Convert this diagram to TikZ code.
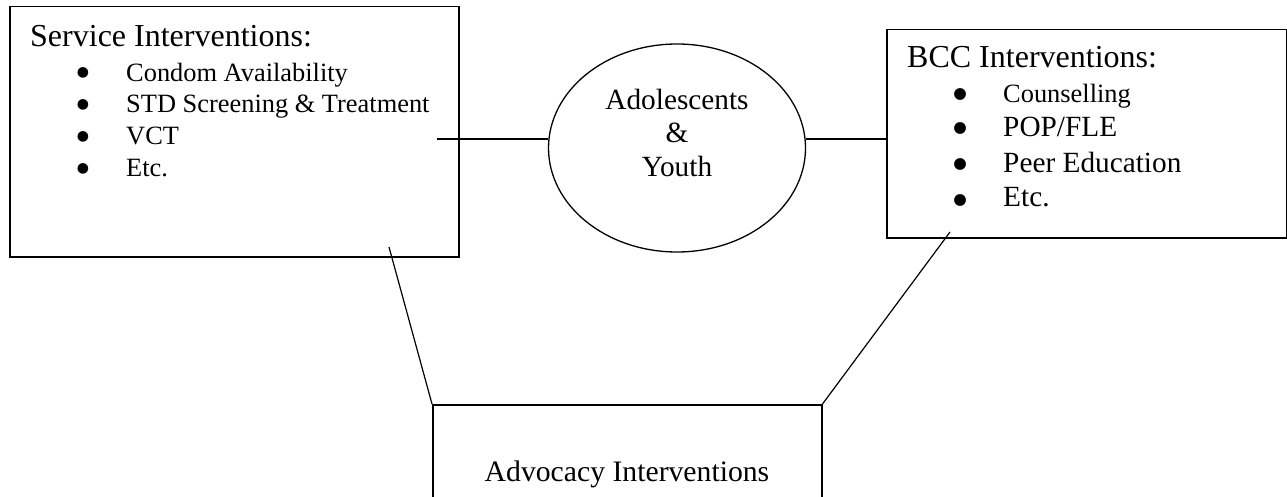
\documentclass[tikz,border=0pt]{standalone}
\usepackage{fontspec}
\setmainfont{Liberation Serif}
\newfontfamily\symfont{DejaVu Sans}
\usetikzlibrary{shapes.geometric}
\begin{document}
\begin{tikzpicture}[x=1pt,y=-1pt,
  box/.style={draw, line width=1.5pt, rectangle, inner sep=0pt, anchor=north west},
  conn/.style={line width=1.2pt},
  txt/.style={inner sep=0pt, anchor=base west},
  ctxt/.style={inner sep=0pt, anchor=base},
  bul/.style={inner sep=0pt, anchor=center, font=\symfont\fontsize{14}{15}\selectfont},
  bulb/.style={inner sep=0pt, anchor=center, font=\symfont\fontsize{15.5}{16}\selectfont},
  big/.style={font=\fontsize{32}{38}\selectfont},
  item/.style={font=\fontsize{26.4}{31}\selectfont},
  itemb/.style={font=\fontsize{29.3}{34}\selectfont},
  mid/.style={font=\fontsize{29.3}{34}\selectfont},
]
\clip (0,0) rectangle (1287,497);
\fill[white] (0,0) rectangle (1287,497);
% boxes
\node[box, minimum width=449pt, minimum height=250pt] (svc) at (9,6) {};
\node[box, minimum width=400pt, minimum height=208pt] (bcc) at (886,29) {};
\node[box, minimum width=389pt, minimum height=140pt] (adv) at (432,404) {};
\node[draw, ellipse, line width=1.3pt, inner sep=0pt, minimum width=257pt, minimum height=208pt] (ell) at (677,148) {};
% service text
\node[txt, big] (svct) at (30,47) {Service Interventions:};
\node[bul] (sb1) at (83,73.3) {●};
\node[bul] (sb2) at (83,105) {●};
\node[bul] (sb3) at (83,137.3) {●};
\node[bul] (sb4) at (83,169) {●};
\node[txt, item] (si1) at (126,82) {Condom Availability};
\node[txt, item] (si2) at (126,113) {STD Screening \& Treatment};
\node[txt, item] (si3) at (126,145) {VCT};
\node[txt, item] (si4) at (126,177) {Etc.};
% BCC text
\node[txt, big] (bcct) at (907,68) {BCC Interventions:};
\node[bulb] (bb1) at (960,94.3) {●};
\node[bulb] (bb2) at (960,128.3) {●};
\node[bulb] (bb3) at (960,164.3) {●};
\node[bulb] (bb4) at (960,200) {●};
\node[txt, item] (bi1) at (1003,103) {Counselling};
\node[txt, itemb] (bi2) at (1003,137) {POP/FLE};
\node[txt, itemb] (bi3) at (1003,173) {Peer Education};
\node[txt, itemb] (bi4) at (1003,207) {Etc.};
% ellipse text
\node[ctxt, mid] (e1) at (677,110) {Adolescents};
\node[ctxt, mid] (e2) at (677,143) {\&};
\node[ctxt, mid] (e3) at (677,177) {Youth};
% advocacy text
\node[ctxt, font=\fontsize{29.7}{35}\selectfont] (advt) at (627,481) {Advocacy Interventions};
% connector ends
\coordinate (h1) at (437,139);
\coordinate (d1) at (389,247);
\coordinate (d2) at (950,232);
% connectors
\draw[conn] (h1) -- (h1 -| ell.west);
\draw[conn] (ell.east |- h1) -- (bcc.west |- h1);
\draw[conn] (d1) -- (adv.north west);
\draw[conn] (d2) -- (adv.north east);
\end{tikzpicture}
\end{document}
